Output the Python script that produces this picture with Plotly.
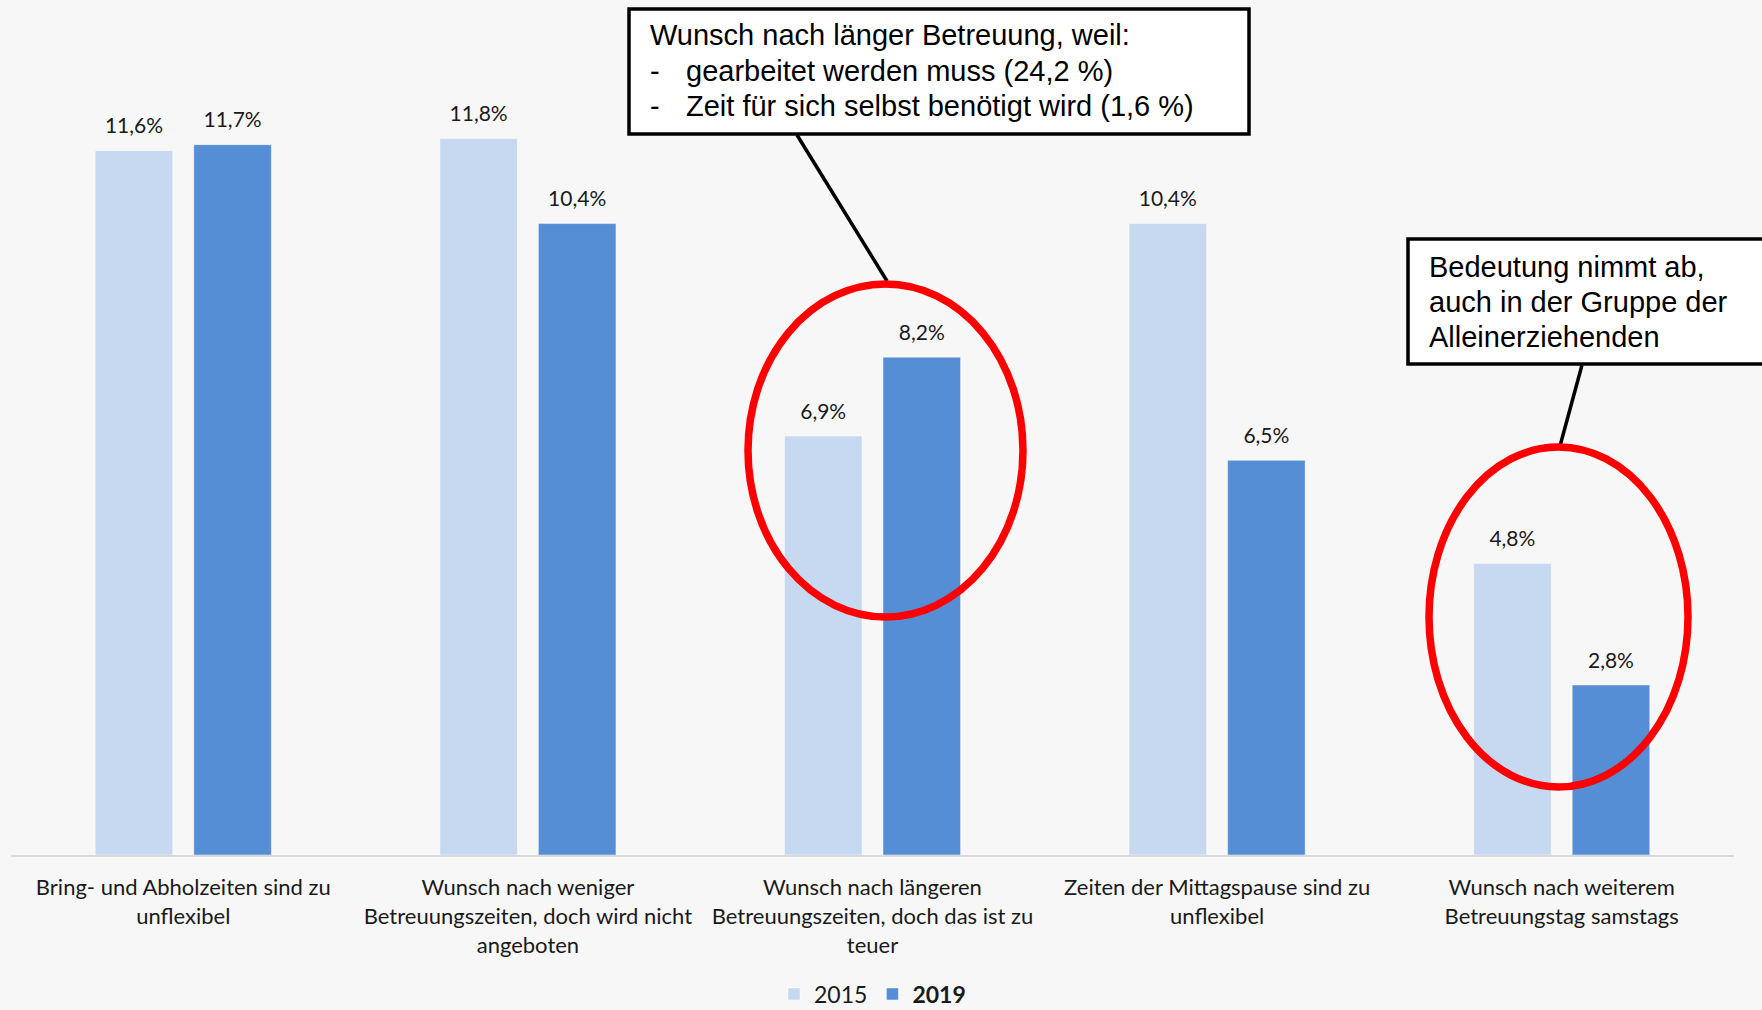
import plotly.graph_objects as go

categories = [
    "Bring- und Abholzeiten sind zu<br>unflexibel",
    "Wunsch nach weniger<br>Betreuungszeiten, doch wird nicht<br>angeboten",
    "Wunsch nach längeren<br>Betreuungszeiten, doch das ist zu<br>teuer",
    "Zeiten der Mittagspause sind zu<br>unflexibel",
    "Wunsch nach weiterem<br>Betreuungstag samstags",
]
values_2015 = [11.6, 11.8, 6.9, 10.4, 4.8]
values_2019 = [11.7, 10.4, 8.2, 6.5, 2.8]

box1_lines = ["Wunsch nach länger Betreuung, weil:",
              "gearbeitet werden muss (24,2 %)",
              "Zeit für sich selbst benötigt wird (1,6 %)"]
box2_lines = ["Bedeutung nimmt ab,", "auch in der Gruppe der", "Alleinerziehenden"]

W, H = 1762, 1010
ML, MR, MT, MB = 11, 28, 5, 155
PW, PH = W - ML - MR, H - MT - MB
BARGAP, GROUPGAP = 0.428, 0.213
LABEL_FONT = dict(family="Lato", size=21, color="#1a1a1a")


def px(x):
    return (x - ML) / PW


def py(y):
    return (H - MB - y) / PH


fig = go.Figure()
for name, vals, color in [("2015", values_2015, "#C6D9F1"),
                          ("<b>2019</b>", values_2019, "#558ED5")]:
    fig.add_trace(go.Bar(
        x=categories, y=vals, name=name,
        marker=dict(color=color, line=dict(width=1, color="rgba(255,255,255,0.45)")),
        hoverinfo="skip",
    ))
for vals in [values_2015, values_2019]:
    fig.add_trace(go.Scatter(
        x=categories, y=vals, mode="markers+text",
        marker=dict(size=18, opacity=0),
        texttemplate="%{y:.1f}%", textposition="top center",
        textfont=LABEL_FONT, showlegend=False, hoverinfo="skip",
        cliponaxis=False,
    ))

TXT = dict(family="Liberation Sans", size=29, color="black")
shapes = [
    dict(type="rect", xref="paper", yref="paper",
         x0=px(629), x1=px(1249), y0=py(9), y1=py(134),
         line=dict(color="black", width=3.5), fillcolor="white"),
    dict(type="line", xref="paper", yref="paper",
         x0=px(797), y0=py(135), x1=px(887), y1=py(281),
         line=dict(color="black", width=3.5)),
    dict(type="circle", xref="paper", yref="paper",
         x0=px(748), x1=px(1023), y0=py(284), y1=py(617),
         line=dict(color="#FF0000", width=7.5)),
    dict(type="rect", xref="paper", yref="paper",
         x0=px(1408), x1=px(1766), y0=py(239), y1=py(364),
         line=dict(color="black", width=3.5), fillcolor="white"),
    dict(type="line", xref="paper", yref="paper",
         x0=px(1582), y0=py(365), x1=px(1560), y1=py(446),
         line=dict(color="black", width=3.5)),
    dict(type="circle", xref="paper", yref="paper",
         x0=px(1429), x1=px(1688), y0=py(447), y1=py(787),
         line=dict(color="#FF0000", width=7.5)),
]

annotations = []
b1_y = [35, 71, 106]
b1_x = [648, 684, 684]
for i, line in enumerate(box1_lines):
    annotations.append(dict(xref="paper", yref="paper", x=px(b1_x[i]), y=py(b1_y[i]),
                            xanchor="left", yanchor="middle", showarrow=False,
                            text=line, font=TXT))
for yy in b1_y[1:]:
    annotations.append(dict(xref="paper", yref="paper", x=px(648), y=py(yy),
                            xanchor="left", yanchor="middle", showarrow=False,
                            text="-", font=TXT))
b2_y = [267, 302, 337]
for i, line in enumerate(box2_lines):
    annotations.append(dict(xref="paper", yref="paper", x=px(1427), y=py(b2_y[i]),
                            xanchor="left", yanchor="middle", showarrow=False,
                            text=line, font=TXT))

fig.update_layout(
    width=W, height=H,
    margin=dict(l=ML, r=MR, t=MT, b=MB, autoexpand=False),
    paper_bgcolor="#F7F7F7", plot_bgcolor="#F7F7F7",
    barmode="group", bargap=BARGAP, bargroupgap=GROUPGAP,
    scattermode="group", scattergap=BARGAP,
    separators=",.",
    showlegend=True,
    legend=dict(orientation="h", x=0.5, xanchor="center", y=py(994),
                yanchor="middle", font=dict(family="Lato", size=23, color="#1a1a1a"),
                bgcolor="rgba(0,0,0,0)"),
    shapes=shapes, annotations=annotations,
    font=dict(family="Lato"),
)
fig.update_xaxes(showline=True, linecolor="#D9D9D9", linewidth=2, automargin=False,
                 showgrid=False, ticks="", ticklabelstandoff=12,
                 tickfont=dict(family="Lato", size=22, color="#1a1a1a"))
fig.update_yaxes(range=[0, 14], visible=False, showgrid=False, automargin=False)

fig.write_html("out.html", config={"displayModeBar": False},
               post_script="document.body.style.margin='0';document.body.style.background='#F7F7F7';")
